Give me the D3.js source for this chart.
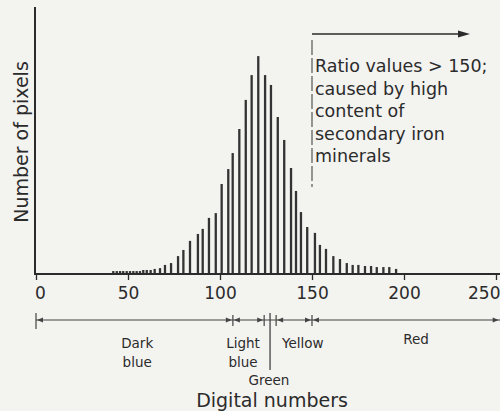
<!DOCTYPE html>
<html>
<head>
<meta charset="utf-8">
<script src="https://cdn.jsdelivr.net/npm/d3@7"></script>
<style>
  body { margin: 0; background: #f3f3f0; }
  svg { display: block; font-family: "DejaVu Sans", sans-serif; }
</style>
</head>
<body>
<div id="plot"></div>
<script>
// Histogram of ratio image: digital number (DN) of each bar and its pixel count
const digitalNumbers = [
    42.0, 43.9, 45.7, 47.4, 49.3, 51.1, 52.9, 54.7, 56.5, 58.3, 60.2,
    62.3, 64.5, 67.4, 70.1, 73.4, 77.2, 80.1, 83.7, 88.0, 90.6, 94.0, 97.7,
    100.9, 104.5, 106.9, 110.5, 114.0, 117.2, 120.8, 124.5, 127.7, 131.4,
    134.9, 138.6, 141.3, 144.0, 147.4, 151.6, 154.3, 157.6, 161.6, 165.2,
    168.9, 172.1, 175.2, 178.8, 182.1, 185.2, 188.8, 192.0, 195.7
];
const pixelCounts = [
    11, 11, 11, 11, 11, 11, 11, 11, 11, 15, 15,
    15, 19, 22, 34, 41, 67, 90, 124, 150, 169, 210, 228,
    337, 393, 453, 543, 652, 745, 816, 745, 708, 588,
    502, 397, 311, 232, 176, 154, 109, 94, 67, 56,
    41, 34, 34, 30, 30, 26, 26, 26, 19
];

// x axis tick labels
const tickValues = [0, 50, 100, 150, 200, 250];

// colour classes along the DN axis
const zoneNames = ["Dark blue", "Light blue", "Green", "Yellow", "Red"];
const zoneStart = [0, 107, 124, 130.5, 150];
const zoneEnd = [107, 124, 130.5, 150, 252];

const noteLines = ["Ratio values > 150;", "caused by high", "content of", "secondary iron", "minerals"];

const width = 500, height = 411;
const ink = "#2b2b2b";

const svg = d3.select("#plot")
    .append("svg")
    .attr("width", width)
    .attr("height", height);

const x = d3.scaleLinear().domain([0, 250]).range([36, 496]);
const y = d3.scaleLinear().domain([0, 1000]).range([274, 7]);

// bars
svg.selectAll(".bar")
    .data(digitalNumbers)
    .enter()
    .append("rect")
    .attr("x", d => x(d) - 1.15)
    .attr("width", 2.3)
    .attr("y", (d, i) => y(pixelCounts[i]))
    .attr("height", (d, i) => y(0) - y(pixelCounts[i]))
    .attr("fill", "#333");

// y axis line (no ticks)
svg.append("line")
    .attr("x1", 35).attr("x2", 35)
    .attr("y1", y(1000)).attr("y2", y(0) + 1)
    .attr("stroke", ink).attr("stroke-width", 2);

// x axis
const xAxis = svg.append("g")
    .attr("transform", "translate(0," + y(0) + ")")
    .call(d3.axisBottom(x).tickValues(tickValues).tickSize(6).tickPadding(7));
xAxis.select(".domain").remove();
xAxis.append("line")
    .attr("x1", 34).attr("x2", width)
    .attr("stroke", ink).attr("stroke-width", 2);
xAxis.selectAll(".tick line").attr("stroke", ink).attr("stroke-width", 1.3);
xAxis.selectAll(".tick text")
    .attr("fill", ink)
    .style("font-size", "17px")
    .style("font-family", "DejaVu Sans, sans-serif");
xAxis.selectAll(".tick").filter(d => d === 0).select("text").attr("dx", 4);
// last label sits at the page edge
xAxis.selectAll(".tick").filter(d => d === 250).select("text")
    .attr("text-anchor", "end").attr("x", width - x(250));

// axis titles
svg.append("text")
    .attr("transform", "translate(28," + 142 + ") rotate(-90)")
    .attr("text-anchor", "middle")
    .style("font-size", "19px")
    .attr("fill", ink)
    .text("Number of pixels");

svg.append("text")
    .attr("x", 272)
    .attr("y", 407)
    .attr("text-anchor", "middle")
    .style("font-size", "19px")
    .attr("fill", ink)
    .text("Digital numbers");

// threshold at 150 with arrow and note
svg.append("line")
    .attr("x1", x(150)).attr("x2", x(150))
    .attr("y1", 40).attr("y2", 187)
    .attr("stroke", "#555").attr("stroke-width", 1.2)
    .attr("stroke-dasharray", "15,3");

svg.append("line")
    .attr("x1", x(150)).attr("x2", 460)
    .attr("y1", 34).attr("y2", 34)
    .attr("stroke", ink).attr("stroke-width", 1.3);
svg.append("path")
    .attr("d", "M458,30.5 L470,34 L458,37.5 Z")
    .attr("fill", ink);

svg.append("g")
    .selectAll("text")
    .data(noteLines)
    .enter()
    .append("text")
    .attr("x", x(150) + 3)
    .attr("y", (d, i) => 72 + i * 22.6)
    .style("font-size", "17.5px")
    .attr("fill", ink)
    .text(d => d);

// colour class legend along the DN axis
const legY = 320;
const leg = svg.append("g");

leg.append("line")
    .attr("x1", x(0)).attr("x2", width)
    .attr("y1", legY).attr("y2", legY)
    .attr("stroke", "#444").attr("stroke-width", 1.2);

// boundary ticks
leg.selectAll(".bound")
    .data(zoneStart)
    .enter()
    .append("line")
    .attr("x1", d => x(d)).attr("x2", d => x(d))
    .attr("y1", (d, i) => i === 0 ? 313 : 315)
    .attr("y2", (d, i) => i === 0 ? 329 : 326)
    .attr("stroke", "#444").attr("stroke-width", 1.2);

// arrowheads at both ends of each class (green has none)
function arrowHead(tipX, dir) {
    const b = tipX - dir * 6;
    return "M" + tipX + "," + legY + " L" + b + "," + (legY - 2.6) + " L" + b + "," + (legY + 2.6) + " Z";
}
zoneNames.forEach((name, i) => {
    if (name === "Green") return;
    leg.append("path").attr("d", arrowHead(x(zoneStart[i]) + 1, -1)).attr("fill", "#444");
    const endX = Math.min(x(zoneEnd[i]) - 1, width - 1);
    leg.append("path").attr("d", arrowHead(endX, 1)).attr("fill", "#444");
});

// green pointer line
leg.append("line")
    .attr("x1", x(127.2)).attr("x2", x(127.2))
    .attr("y1", 313).attr("y2", 370)
    .attr("stroke", "#444").attr("stroke-width", 1.3);

// class labels (DN position, baselines)
const labelPos = [
    { dn: 55, lines: ["Dark", "blue"], y: 348 },
    { dn: 112.5, lines: ["Light", "blue"], y: 348 },
    { dn: 126.6, lines: ["Green"], y: 385 },
    { dn: 145, lines: ["Yellow"], y: 348 },
    { dn: 206.5, lines: ["Red"], y: 344 }
];
labelPos.forEach(l => {
    l.lines.forEach((t, j) => {
        leg.append("text")
            .attr("x", x(l.dn))
            .attr("y", l.y + j * 19)
            .attr("text-anchor", "middle")
            .style("font-size", "13.5px")
            .attr("fill", ink)
            .text(t);
    });
});
</script>
</body>
</html>
